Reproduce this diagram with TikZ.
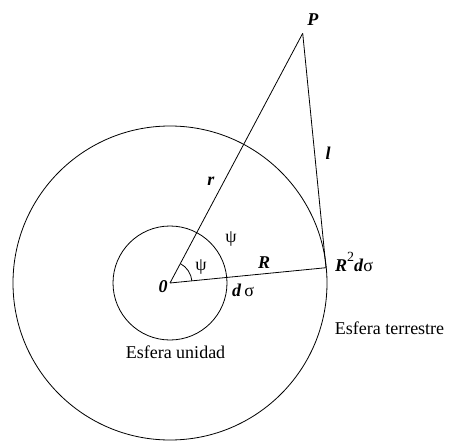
\documentclass[tikz,border=0pt]{standalone}
\usepackage{fontspec}
\setmainfont{Liberation Serif}
\begin{document}
\begin{tikzpicture}[x=1pt,y=1pt,
  lbl/.style={inner sep=0pt,font=\fontsize{18}{20}\selectfont},
  ln/.style={line width=0.8pt}]
\useasboundingbox (0,0) rectangle (449,440);
\coordinate (O) at (170,157);
\coordinate (P) at (302.7,406.7);
\coordinate (Q) at (326,172.3);
\draw[ln] (O) circle (157);
\draw[ln] (O) circle (57);
\draw[ln] (O) -- (P);
\draw[ln] (O) -- (Q);
\draw[ln] (P) -- (Q);
\draw[ln] ([shift={(5.6:22)}]O) arc (5.6:62:22);
\node[lbl] (lP) at (313,420) {\textbf{\textit{P}}};
\node[lbl] (ll) at (328,287) {\textbf{\textit{l}}};
\node[lbl] (lr) at (211,259) {\textbf{\textit{r}}};
\node[lbl] (psi1) at (231,201) {ψ};
\node[lbl] (psi2) at (201,173) {ψ};
\node[lbl] (lR) at (264,177) {\textbf{\textit{R}}};
\node[lbl,anchor=base west] (lR2) at (335,168.3) {\textbf{\textit{R}}\raisebox{0.55em}{\fontsize{14}{16}\selectfont 2}\textbf{\textit{d}}σ};
\node[lbl] (l0) at (163,153) {\textbf{\textit{0}}};
\node[lbl] (lds) at (243,150) {\textbf{\textit{d}}\,σ};
\node[lbl] (et) at (389.5,112) {Esfera terrestre};
\node[lbl] (eu) at (175.5,88) {Esfera unidad};
\end{tikzpicture}
\end{document}
